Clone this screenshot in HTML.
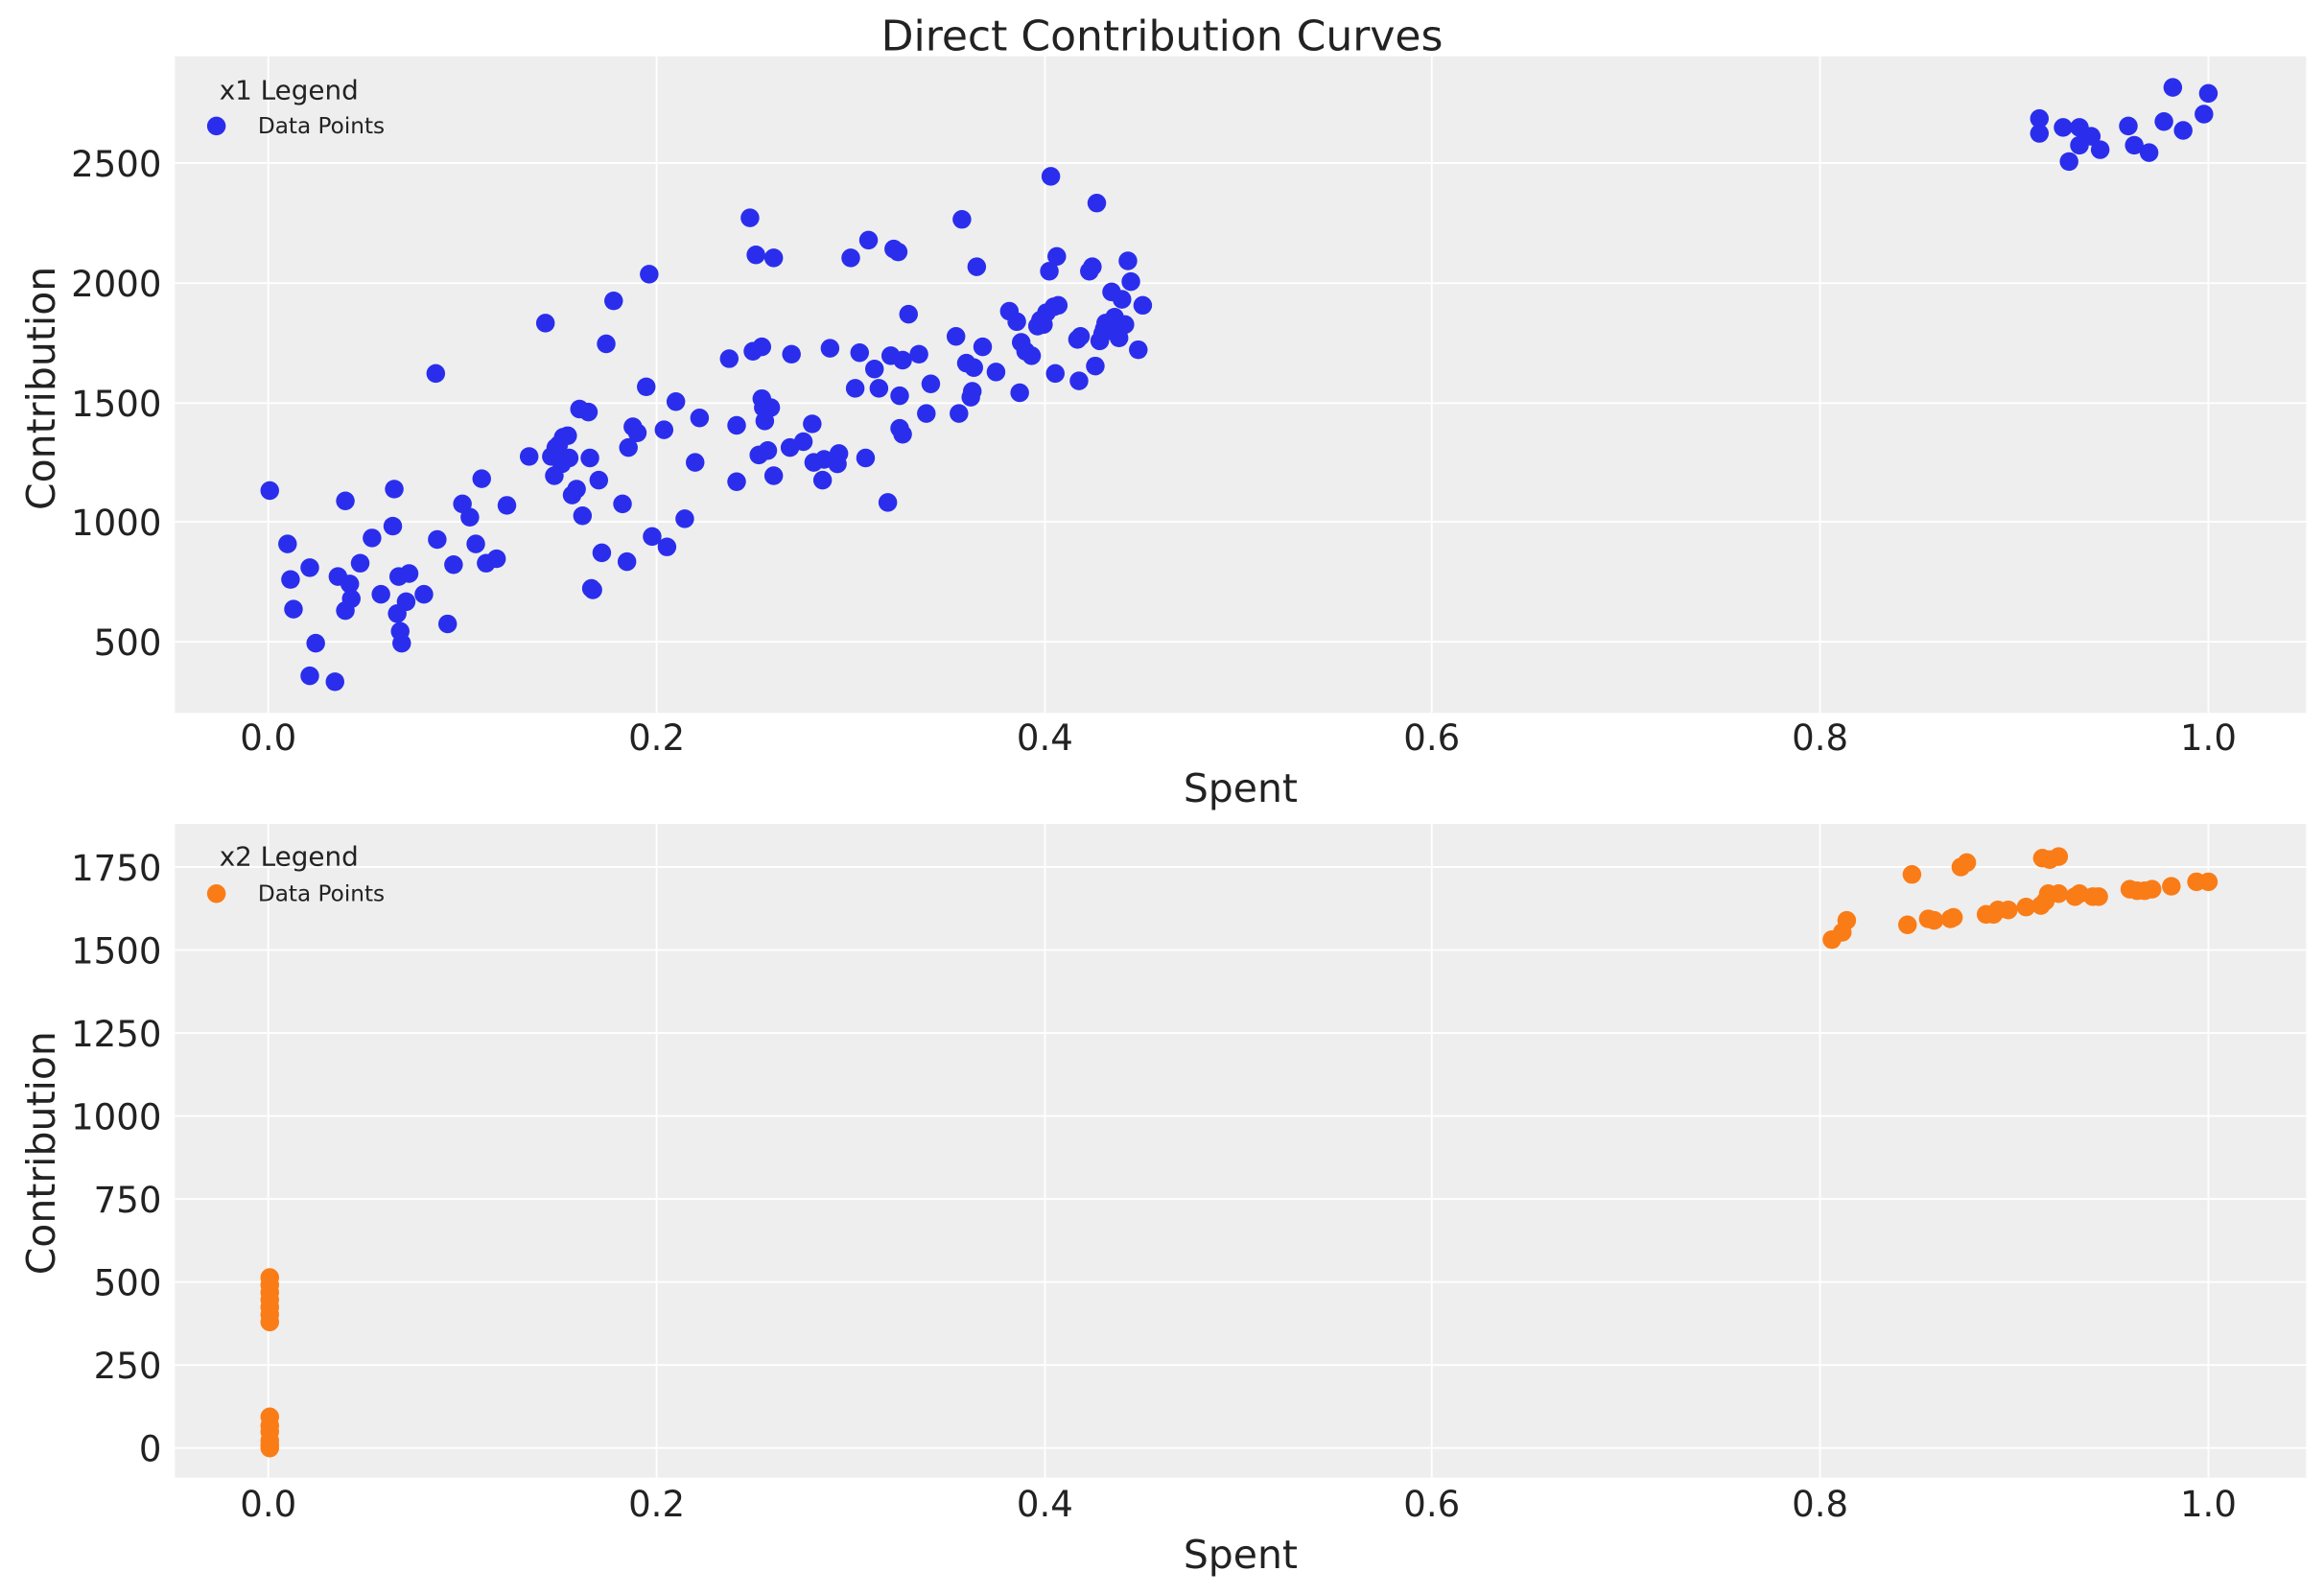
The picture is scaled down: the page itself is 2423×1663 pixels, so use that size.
<!DOCTYPE html>
<html><head><meta charset="utf-8"><style>html,body{margin:0;padding:0;background:#fff}svg{display:block}</style></head>
<body>
<svg width="2423" height="1663" viewBox="0 0 1568 1076.2" xmlns="http://www.w3.org/2000/svg" font-family="'DejaVu Sans','Liberation Sans',sans-serif" fill="#222">
<rect x="118" y="38" width="1438" height="443" fill="#eeeeee"/>
<rect x="118" y="556" width="1438" height="441" fill="#eeeeee"/>
<g stroke="#fff" stroke-width="1.2">
<line x1="181" y1="38" x2="181" y2="481"/><line x1="443" y1="38" x2="443" y2="481"/><line x1="705" y1="38" x2="705" y2="481"/><line x1="966" y1="38" x2="966" y2="481"/><line x1="1228" y1="38" x2="1228" y2="481"/><line x1="1490" y1="38" x2="1490" y2="481"/>
<line x1="118" y1="110" x2="1556" y2="110"/><line x1="118" y1="191" x2="1556" y2="191"/><line x1="118" y1="272" x2="1556" y2="272"/><line x1="118" y1="352" x2="1556" y2="352"/><line x1="118" y1="433" x2="1556" y2="433"/>
<line x1="181" y1="556" x2="181" y2="997"/><line x1="443" y1="556" x2="443" y2="997"/><line x1="705" y1="556" x2="705" y2="997"/><line x1="966" y1="556" x2="966" y2="997"/><line x1="1228" y1="556" x2="1228" y2="997"/><line x1="1490" y1="556" x2="1490" y2="997"/>
<line x1="118" y1="977" x2="1556" y2="977"/><line x1="118" y1="921" x2="1556" y2="921"/><line x1="118" y1="865" x2="1556" y2="865"/><line x1="118" y1="809" x2="1556" y2="809"/><line x1="118" y1="753" x2="1556" y2="753"/><line x1="118" y1="697" x2="1556" y2="697"/><line x1="118" y1="641" x2="1556" y2="641"/><line x1="118" y1="585" x2="1556" y2="585"/>
</g>
<text x="784" y="34" font-size="28.5" text-anchor="middle">Direct Contribution Curves</text>
<g font-size="24" text-anchor="end">
<text x="109" y="119">2500</text><text x="109" y="200">2000</text><text x="109" y="281">1500</text><text x="109" y="361">1000</text><text x="109" y="442">500</text>
<text x="109" y="986">0</text><text x="109" y="930">250</text><text x="109" y="874">500</text><text x="109" y="818">750</text><text x="109" y="762">1000</text><text x="109" y="706">1250</text><text x="109" y="650">1500</text><text x="109" y="594">1750</text>
</g>
<g font-size="24" text-anchor="middle">
<text x="181" y="506">0.0</text><text x="443" y="506">0.2</text><text x="705" y="506">0.4</text><text x="966" y="506">0.6</text><text x="1228" y="506">0.8</text><text x="1490" y="506">1.0</text>
<text x="181" y="1023">0.0</text><text x="443" y="1023">0.2</text><text x="705" y="1023">0.4</text><text x="966" y="1023">0.6</text><text x="1228" y="1023">0.8</text><text x="1490" y="1023">1.0</text>
<text x="837" y="541" font-size="26.5">Spent</text><text x="837" y="1058" font-size="26.5">Spent</text>
<text transform="translate(37,262) rotate(-90)" font-size="26.5">Contribution</text>
<text transform="translate(37,778) rotate(-90)" font-size="26.5">Contribution</text>
</g>
<text x="148" y="67" font-size="18">x1 Legend</text><circle cx="146" cy="85" r="6.3" fill="#2a2eec"/><text x="174" y="90" font-size="15">Data Points</text>
<text x="148" y="584" font-size="18">x2 Legend</text><circle cx="146" cy="603" r="6.3" fill="#fa7c17"/><text x="174" y="608" font-size="15">Data Points</text>
<path fill="none" stroke="#2a2eec" stroke-width="12.6" stroke-linecap="round" d="M182 331h0M194 367h0M196 391h0M198 411h0M209 383h0M209 456h0M213 434h0M226 460h0M228 389h0M233 338h0M233 412h0M236 394h0M237 404h0M243 380h0M251 363h0M257 401h0M265 355h0M266 330h0M268 414h0M269 389h0M270 426h0M271 434h0M274 406h0M276 387h0M286 401h0M294 252h0M295 364h0M302 421h0M306 381h0M312 340h0M317 349h0M321 367h0M325 323h0M328 380h0M335 377h0M342 341h0M357 308h0M368 218h0M372 308h0M374 321h0M375 302h0M377 300h0M379 313h0M380 295h0M383 294h0M384 309h0M386 334h0M389 330h0M391 276h0M393 348h0M397 278h0M398 309h0M399 397h0M400 398h0M404 324h0M406 373h0M409 232h0M414 203h0M420 340h0M423 379h0M424 302h0M427 288h0M430 292h0M436 261h0M438 185h0M440 362h0M448 290h0M450 369h0M456 271h0M462 350h0M469 312h0M472 282h0M492 242h0M497 287h0M497 325h0M506 147h0M508 237h0M510 172h0M512 307h0M514 234h0M514 269h0M515 275h0M516 284h0M518 304h0M520 275h0M522 174h0M522 321h0M533 302h0M534 239h0M542 298h0M548 286h0M549 312h0M555 324h0M556 310h0M560 235h0M565 313h0M566 306h0M574 174h0M577 262h0M580 238h0M584 309h0M586 162h0M590 249h0M593 262h0M599 339h0M601 240h0M603 168h0M606 170h0M607 267h0M607 289h0M609 293h0M609 243h0M613 212h0M620 239h0M625 279h0M628 259h0M645 227h0M647 279h0M649 148h0M652 245h0M655 268h0M656 264h0M657 248h0M659 180h0M663 234h0M672 251h0M681 210h0M686 217h0M688 265h0M689 231h0M692 237h0M696 240h0M700 220h0M702 216h0M704 219h0M706 211h0M708 183h0M709 119h0M711 207h0M712 252h0M713 173h0M714 206h0M727 229h0M728 257h0M729 227h0M735 183h0M737 180h0M739 247h0M740 137h0M742 230h0M744 225h0M745 222h0M746 218h0M750 197h0M752 214h0M755 228h0M756 221h0M757 202h0M759 219h0M761 176h0M763 190h0M768 236h0M771 206h0M1376 80h0M1376 90h0M1392 86h0M1396 109h0M1403 86h0M1403 98h0M1411 92h0M1417 101h0M1436 85h0M1440 98h0M1450 103h0M1460 82h0M1466 59h0M1473 88h0M1487 77h0M1490 63h0"/>
<path fill="none" stroke="#fa7c17" stroke-width="12.6" stroke-linecap="round" d="M182 862h0M182 867h0M182 872h0M182 877h0M182 882h0M182 887h0M182 892h0M182 956h0M182 962h0M182 966h0M182 972h0M182 975h0M182 977h0M1236 634h0M1243 629h0M1246 621h0M1287 624h0M1290 590h0M1301 620h0M1305 621h0M1316 620h0M1318 619h0M1323 585h0M1327 582h0M1340 617h0M1345 617h0M1348 614h0M1355 614h0M1367 612h0M1377 611h0M1380 608h0M1382 603h0M1389 603h0M1400 605h0M1403 603h0M1412 605h0M1416 605h0M1437 600h0M1442 601h0M1447 601h0M1452 600h0M1465 598h0M1482 595h0M1490 595h0M1383 580h0M1378 579h0M1389 578h0"/>
</svg>
</body></html>
